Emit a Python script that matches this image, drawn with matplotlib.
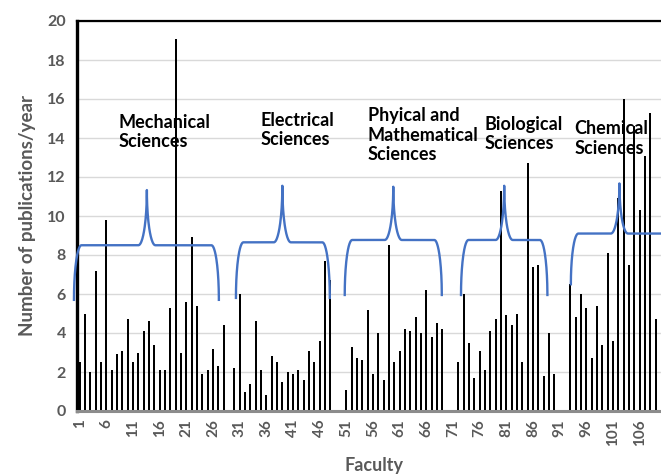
import numpy as np
import matplotlib.pyplot as plt

plt.rcParams['font.family'] = ['Lato', 'DejaVu Sans']

# publications per year, one list per group of faculties
mechanical = [2.5, 5.0, 2.0, 7.2, 2.5, 9.8, 2.1, 2.9, 3.1, 4.7, 2.5, 3.0, 4.1, 4.6,
              3.4, 2.1, 2.1, 5.3, 19.1, 3.0, 5.6, 8.9, 5.4, 1.9, 2.1, 3.2, 2.3, 4.4]
electrical = [2.2, 6.0, 1.0, 1.4, 4.6, 2.1, 0.8, 2.8, 2.5, 1.5, 2.0, 1.9, 2.1, 1.6,
              3.1, 2.5, 3.6, 7.7, 6.7]
phys_math = [1.1, 3.3, 2.7, 2.6, 5.2, 1.9, 4.0, 1.6, 8.5, 2.5, 3.1, 4.2, 4.1, 4.8,
             4.0, 6.2, 3.8, 4.5, 4.2]
biological = [2.5, 6.0, 3.5, 1.7, 3.1, 2.1, 4.1, 4.7, 11.3, 4.9, 4.4, 5.0, 2.5, 12.7,
              7.4, 7.5, 1.8, 4.0, 1.9]
chemical = [6.5, 4.8, 6.0, 5.3, 2.7, 5.4, 3.4, 8.1, 3.6, 10.9, 16.0, 7.5, 14.6, 10.3,
            13.1, 15.3, 4.7]

groups = [mechanical, electrical, phys_math, biological, chemical]
group_start = [1, 30, 51, 72, 93]
group_names = ['Mechanical\nSciences', 'Electrical\nSciences',
               'Phyical and\nMathematical\nSciences', 'Biological\nSciences',
               'Chemical\nSciences']
n_faculty = 109

faculty = np.arange(1, n_faculty + 1)
pubs = np.zeros(n_faculty)
for start, vals in zip(group_start, groups):
    pubs[start - 1:start - 1 + len(vals)] = vals

# brace layout: left end, right end, tip x, end y, level y, tip y
braces = [(-0.07, 27.1, 13.6, 5.7, 8.5, 11.33),
          (30.3, 47.9, 39.0, 5.8, 8.65, 11.55),
          (50.7, 68.9, 59.8, 5.95, 8.77, 11.5),
          (72.5, 88.7, 80.6, 5.95, 8.77, 11.55),
          (93.1, 113.0, 102.2, 6.5, 9.1, 11.67)]
label_pos = [(8.3, 15.25), (34.9, 15.35), (55.0, 15.6), (77.0, 15.15), (93.7, 14.9)]

gray = '#595959'
blue = '#4472C4'


def brace(ax, x0, x1, xt, y0, ym, yt, w=1.4, wt=1.6):
    t = np.linspace(0, np.pi / 2, 40)
    lx = x0 + w - w * np.cos(t)
    ly = y0 + (ym - y0) * np.sin(t)
    ax_ = xt - wt + wt * np.sin(t)
    ay_ = yt - (yt - ym) * np.cos(t)
    tr = t[::-1]
    bx_ = xt + wt - wt * np.sin(tr)
    by_ = yt - (yt - ym) * np.cos(tr)
    rx = x1 - w + w * np.cos(tr)
    ry = y0 + (ym - y0) * np.sin(tr)
    xs = np.concatenate([lx, ax_, bx_, rx])
    ys = np.concatenate([ly, ay_, by_, ry])
    ax.plot(xs, ys, color=blue, lw=1.7, clip_on=False, zorder=3)


fig = plt.figure(figsize=(6.61, 4.74), dpi=100)
ax = fig.add_axes([77 / 661, 63 / 474, 1 - 77 / 661, 390 / 474])

ax.bar(faculty, pubs, width=0.38, color='black', zorder=2)

ax.set_xlim(0.5, 110.0)
ax.set_ylim(0, 20)
ax.set_yticks(np.arange(0, 21, 2))
ax.set_xticks(np.arange(1, n_faculty + 1, 5))
ax.tick_params(axis='x', length=0, rotation=90, labelsize=11, labelcolor=gray, pad=6)
ax.tick_params(axis='y', length=0, labelsize=11.5, labelcolor=gray, pad=8)
for lab in ax.get_xticklabels() + ax.get_yticklabels():
    lab.set_fontweight('bold')

ax.grid(axis='y', color='#d9d9d9', lw=1, zorder=0)
ax.spines['right'].set_visible(False)
ax.spines['left'].set_color('black')
ax.spines['left'].set_linewidth(2.4)
ax.spines['top'].set_color('black')
ax.spines['top'].set_linewidth(1.6)
ax.spines['bottom'].set_color('#8c8c8c')
ax.spines['bottom'].set_linewidth(2.2)

for b in braces:
    brace(ax, *b)

for name, (x, y) in zip(group_names, label_pos):
    ax.text(x, y, name, ha='left', va='top', fontsize=13, fontweight='bold',
            color='black', linespacing=1.2, zorder=4)

ax.set_ylabel('Number of publications/year', fontsize=13.5, fontweight='bold',
              color=gray, labelpad=8)
fig.text(374 / 661, 1 - 465 / 474, 'Faculty', ha='center', va='center',
         fontsize=13, fontweight='bold', color=gray)

fig.savefig('out.png', dpi=100)
